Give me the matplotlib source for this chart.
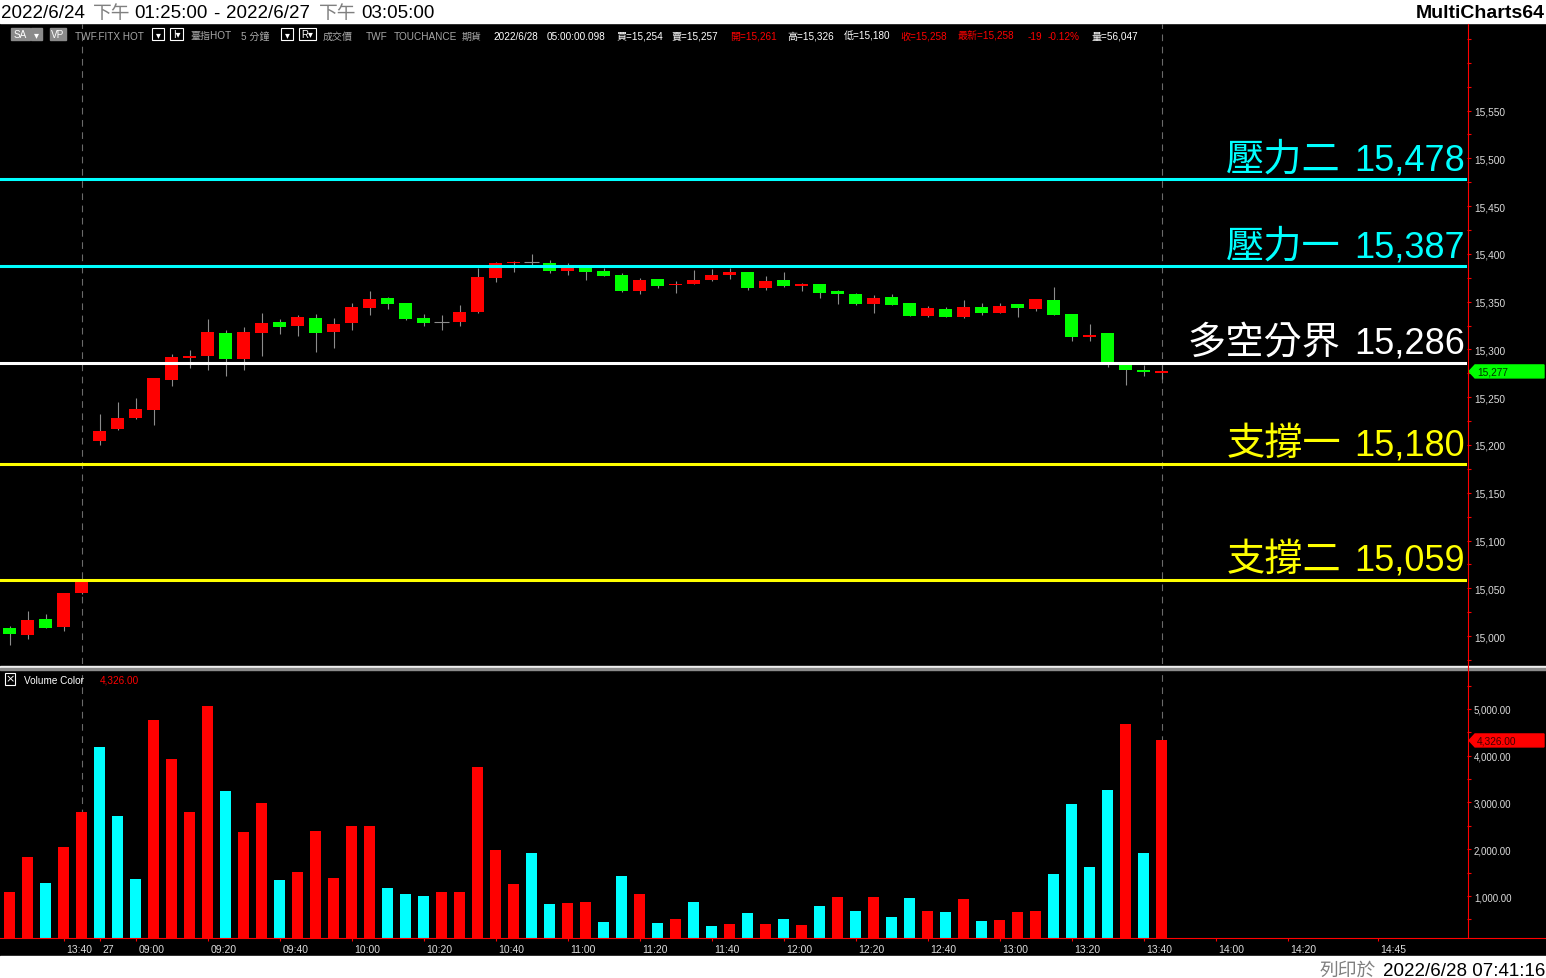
import matplotlib
matplotlib.use("Agg")
import matplotlib.pyplot as plt
from matplotlib.patches import Rectangle, Polygon
from matplotlib.lines import Line2D
from matplotlib.ticker import FixedLocator, FuncFormatter
from matplotlib.transforms import ScaledTranslation, blended_transform_factory

plt.rcParams['font.family'] = ['Liberation Sans', 'Noto Sans CJK TC', 'DejaVu Sans']

W, H = 1546, 979

# 5 minute bars: index 0..4 -> 6/24 13:25-13:45, index 5..64 -> 6/27 08:50-13:45
opens = [15008, 15001, 15018, 15010, 15045,
         15204, 15217, 15228, 15237, 15268, 15291, 15293, 15317, 15290, 15317,
         15329, 15325, 15333, 15318, 15328, 15343, 15354, 15349, 15333, 15329,
         15329, 15339, 15375, 15390, 15391, 15390, 15382, 15385, 15382, 15378,
         15361, 15374, 15367, 15368, 15373, 15378, 15381, 15364, 15373, 15366,
         15368, 15361, 15358, 15348, 15355, 15349, 15335, 15342, 15334, 15344,
         15338, 15348, 15342, 15352, 15337, 15313, 15317, 15285, 15278, 15275]
highs = [15011, 15026, 15023, 15045, 15060,
         15232, 15245, 15249, 15270, 15295, 15299, 15332, 15320, 15323, 15338,
         15332, 15336, 15337, 15333, 15349, 15361, 15355, 15349, 15337, 15336,
         15347, 15385, 15392, 15393, 15400, 15394, 15390, 15385, 15385, 15380,
         15375, 15374, 15372, 15383, 15384, 15385, 15381, 15377, 15381, 15370,
         15368, 15362, 15359, 15357, 15358, 15349, 15345, 15344, 15352, 15349,
         15349, 15348, 15353, 15365, 15337, 15327, 15317, 15286, 15284, 15284]
lows = [14991, 14997, 15008, 15005, 15044,
        15200, 15216, 15227, 15221, 15262, 15281, 15279, 15272, 15279, 15293,
        15316, 15314, 15297, 15302, 15320, 15336, 15342, 15331, 15325, 15320,
        15325, 15338, 15371, 15381, 15388, 15380, 15378, 15373, 15377, 15360,
        15358, 15364, 15359, 15368, 15372, 15374, 15362, 15362, 15365, 15361,
        15354, 15348, 15347, 15338, 15346, 15335, 15334, 15334, 15333, 15336,
        15338, 15334, 15340, 15336, 15309, 15309, 15282, 15263, 15272, 15269]
closes = [15002, 15017, 15008, 15045, 15057,
          15215, 15228, 15238, 15270, 15292, 15293, 15318, 15290, 15318, 15328,
          15324, 15334, 15317, 15327, 15344, 15353, 15348, 15332, 15328, 15329,
          15339, 15376, 15390, 15392, 15391, 15382, 15385, 15381, 15377, 15361,
          15373, 15366, 15369, 15373, 15378, 15381, 15364, 15372, 15366, 15368,
          15359, 15358, 15348, 15354, 15347, 15335, 15343, 15334, 15344, 15338,
          15345, 15343, 15353, 15336, 15313, 15315, 15286, 15278, 15276, 15277]
volumes = [1091, 1839, 1283, 2052, 2799,
           4187, 2714, 1369, 4764, 3931, 2799, 5063, 3245, 2373, 2991,
           1347, 1518, 2395, 1390, 2502, 2502, 1176, 1048, 1006, 1091,
           1091, 3761, 1988, 1262, 1924, 835, 857, 878, 451, 1433,
           1048, 430, 515, 878, 366, 408, 643, 408, 515, 387,
           793, 985, 686, 985, 558, 964, 686, 665, 942, 472,
           494, 665, 686, 1476, 2974, 1625, 3270, 4684, 1924, 4326]
vol_dir = list("RRCRR" "CCCRR" "RRCRR" "CRRRR" "RCCCR" "RRRRC" "CRRCC"
               "RCRCC" "RCRCR" "CRCRC" "CRCRC" "RRRCC" "CCRCR")

levels = [15478, 15387, 15286, 15180, 15059]
level_names = ["壓力二", "壓力一", "多空分界", "支撐一", "支撐二"]
level_colors = ["#00ffff", "#00ffff", "#ffffff", "#ffff00", "#ffff00"]

tick_pos = [3, 5, 7, 11, 15, 19, 23, 27, 31, 35, 39, 43, 47, 51, 55, 59, 63, 67, 71, 76]
tick_labels = ["13:40", "27", "09:00", "09:20", "09:40", "10:00", "10:20", "10:40",
               "11:00", "11:20", "11:40", "12:00", "12:20", "12:40", "13:00",
               "13:20", "13:40", "14:00", "14:20", "14:45"]
session_breaks = [4, 64]
last_price = 15277
last_volume = 4326

RED, GREEN, CYAN = "#ff0000", "#00ff00", "#00ffff"
WICK = "#8c8c8c"
AXC = "#dcdcdc"


def box(x0, y0, x1, y1):
    return [x0 / W, 1 - y1 / H, (x1 - x0) / W, (y1 - y0) / H]


def fp(x, y):
    return (x / W, 1 - y / H)


fig = plt.figure(figsize=(W / 100, H / 100), dpi=100, facecolor="black")

# white title / footer strips
fig.add_artist(Rectangle(fp(0, 24), 1, 24 / H, transform=fig.transFigure, color="white"))
fig.add_artist(Rectangle(fp(0, 979), 1, 22 / H, transform=fig.transFigure, color="white"))

ax_p = fig.add_axes(box(0, 25, 1467, 665), facecolor="black")
ax_v = fig.add_axes(box(0, 671, 1467, 939), facecolor="black")

x0, x1 = -0.528, 80.97
ax_p.set_xlim(x0, x1)
ax_v.set_xlim(x0, x1)
ax_p.set_ylim(14970.8, 15640.6)
ax_v.set_ylim(102.5, 5832)

# candles
for i in range(len(opens)):
    o, h, l, c = opens[i], highs[i], lows[i], closes[i]
    ax_p.vlines(i, l, h, color=WICK, lw=0.8, zorder=2)
    if c == o:
        ax_p.hlines(o, i - 0.39, i + 0.39, color=WICK, lw=0.8, zorder=3)
        continue
    col = RED if c > o else GREEN
    ax_p.bar(i, max(abs(c - o), 2), bottom=min(o, c), width=0.72, color=col,
             lw=0, zorder=3)

# key levels: name and value as two pieces so the CJK part can be a bit larger
lbl_tr = blended_transform_factory(ax_p.transAxes, ax_p.transData) + \
    ScaledTranslation(0, 0.10, fig.dpi_scale_trans)
for lv, name, col in zip(levels, level_names, level_colors):
    ax_p.axhline(lv, color=col, lw=2.2, zorder=4)
    ax_p.text(1465 / 1467, lv, f"{lv:,}", color=col, fontsize=26,
              ha="right", va="baseline", transform=lbl_tr, zorder=5)
    ax_p.text(1341 / 1467, lv, name, color=col, fontsize=27.5,
              family="Noto Sans CJK TC", ha="right", va="baseline",
              transform=lbl_tr, zorder=5)

# volume
vcols = [RED if d == "R" else CYAN for d in vol_dir]
ax_v.bar(range(len(volumes)), volumes, width=0.61, color=vcols, lw=0, zorder=3)

for ax in (ax_p, ax_v):
    for b in session_breaks:
        ax.axvline(b, color="#6a6a6a", lw=0.8, ls=(0, (6, 5)), zorder=1)
    for s in ax.spines.values():
        s.set_visible(False)

# price scale
ax_p.yaxis.tick_right()
ax_p.yaxis.set_major_locator(FixedLocator(range(15000, 15601, 50)))
ax_p.yaxis.set_minor_locator(FixedLocator(range(14975, 15626, 50)))
ax_p.yaxis.set_major_formatter(FuncFormatter(lambda v, p: "" if v > 15575 else f"{int(v):,}"))
ax_p.tick_params(axis="y", which="both", direction="out", length=3, width=0.8,
                 colors=RED, labelcolor=AXC, labelsize=7.3, pad=2)
ax_p.set_xticks([])

ax_v.yaxis.tick_right()
ax_v.yaxis.set_major_locator(FixedLocator(range(1000, 5001, 1000)))
ax_v.yaxis.set_minor_locator(FixedLocator(range(500, 5501, 1000)))
ax_v.yaxis.set_major_formatter(FuncFormatter(lambda v, p: f"{v:,.2f}"))
ax_v.tick_params(axis="y", which="both", direction="out", length=3, width=0.8,
                 colors=RED, labelcolor=AXC, labelsize=7, pad=2)
ax_v.set_xticks(tick_pos)
ax_v.set_xticklabels(tick_labels)
ax_v.tick_params(axis="x", direction="out", length=2.2, width=0.8, colors=RED,
                 labelcolor=AXC, labelsize=7.5, pad=2)
for t in ax_v.get_xticklabels():
    t.set_horizontalalignment("left")
    t.set_transform(t.get_transform() + ScaledTranslation(2 / 72, 0, fig.dpi_scale_trans))

# axis frame lines
fig.add_artist(Line2D([1467.5 / W] * 2, [1 - 25 / H, 1 - 939 / H], color=RED, lw=0.8))
fig.add_artist(Line2D([0, 1], [1 - 939.3 / H] * 2, color=RED, lw=0.8))
fig.add_artist(Rectangle(fp(0, 669), 1, 2 / H, transform=fig.transFigure, color="#f0f0f0"))
fig.add_artist(Rectangle(fp(0, 670.5), 1, 1.5 / H, transform=fig.transFigure, color="#8a8a8a"))


# last value markers
def marker(ax, val, col, txt, tcol):
    yc = H - ax.transData.transform((0, val))[1]
    pts = [fp(1469, yc), fp(1475, yc - 6.5), fp(1544, yc - 6.5), fp(1544, yc + 6.5), fp(1475, yc + 6.5)]
    fig.add_artist(Polygon(pts, closed=True, transform=fig.transFigure, color=col))
    fig.text(1477 / W, 1 - yc / H, txt, color=tcol, fontsize=7.3, va="center", ha="left")


marker(ax_p, last_price, GREEN, f"{last_price:,}", "#003300")
marker(ax_v, last_volume, RED, f"{last_volume:,.2f}", "#400000")

# volume legend
fig.add_artist(Rectangle(fp(4.5, 685.5), 11 / W, 12 / H, transform=fig.transFigure,
                         fill=False, ec="white", lw=0.8))
fig.text(10 / W, 1 - 679.5 / H, "×", color="white", fontsize=8, ha="center", va="center",
         family="DejaVu Sans")
fig.text(24 / W, 1 - 684 / H, "Volume Color", color="white", fontsize=7.2, va="baseline")
fig.text(100 / W, 1 - 684 / H, f"{last_volume:,.2f}", color=RED, fontsize=7.2, va="baseline")

# symbol / quote line
GREY = "#a8a8a8"
for xa, xb, lab in [(11, 30, "SA"), (31, 42, "▾"), (50, 66, "VP")]:
    fig.add_artist(Rectangle(fp(xa, 41), (xb - xa) / W, 12 / H, transform=fig.transFigure,
                             color="#8a8a8a"))
    fig.text((xa + xb) / 2 / W, 1 - 35 / H, lab, color="white", fontsize=7.2,
             ha="center", va="center")
for xa, xb, lab in [(152, 164, "▾"), (170, 183, "I▾"), (281, 293, "▾"), (299, 316, "R▾")]:
    fig.add_artist(Rectangle(fp(xa, 41), (xb - xa) / W, 12 / H, transform=fig.transFigure,
                             fill=False, ec="white", lw=0.8))
    fig.text((xa + xb) / 2 / W, 1 - 35 / H, lab, color="white", fontsize=7,
             ha="center", va="center")

info = [(75, "TWF.FITX HOT", GREY), (190, "臺指HOT", GREY), (241, "5 分鐘", GREY),
        (323, "成交價", GREY), (366, "TWF", GREY), (394, "TOUCHANCE", GREY),
        (462, "期貨", GREY), (493, "2022/6/28", "white"), (547, "05:00:00.098", "white"),
        (616, "買=15,254", "white"), (672, "賣=15,257", "white"), (730, "開=15,261", RED),
        (787, "高=15,326", "white"), (844, "低=15,180", "white"), (900, "收=15,258", RED),
        (958, "最新=15,258", RED), (1028, "-19", RED), (1048, "-0.12%", RED),
        (1092, "量=56,047", "white")]
for x, s, c in info:
    fig.text(x / W, 1 - 39.5 / H, s, color=c, fontsize=7.2, va="baseline")

# title bar
title = [(1, "2022/6/24", "black"), (93, "下午", "#808080"), (134, "01:25:00", "black"),
         (213, "-", "black"), (226, "2022/6/27", "black"), (319, "下午", "#808080"),
         (361, "03:05:00", "black")]
for x, s, c in title:
    fig.text(x / W, 1 - 18.5 / H, s, color=c, fontsize=13.5, va="baseline")
fig.text(1545 / W, 1 - 18.5 / H, "MultiCharts64", color="black", fontsize=14,
         fontweight="bold", ha="right", va="baseline")

# footer
fig.text(1320 / W, 1 - 976 / H, "列印於", color="#808080", fontsize=13.5, va="baseline")
fig.text(1545 / W, 1 - 976 / H, "2022/6/28 07:41:16", color="black", fontsize=13.5,
         ha="right", va="baseline")

fig.savefig("out.png", dpi=100, facecolor="black")
